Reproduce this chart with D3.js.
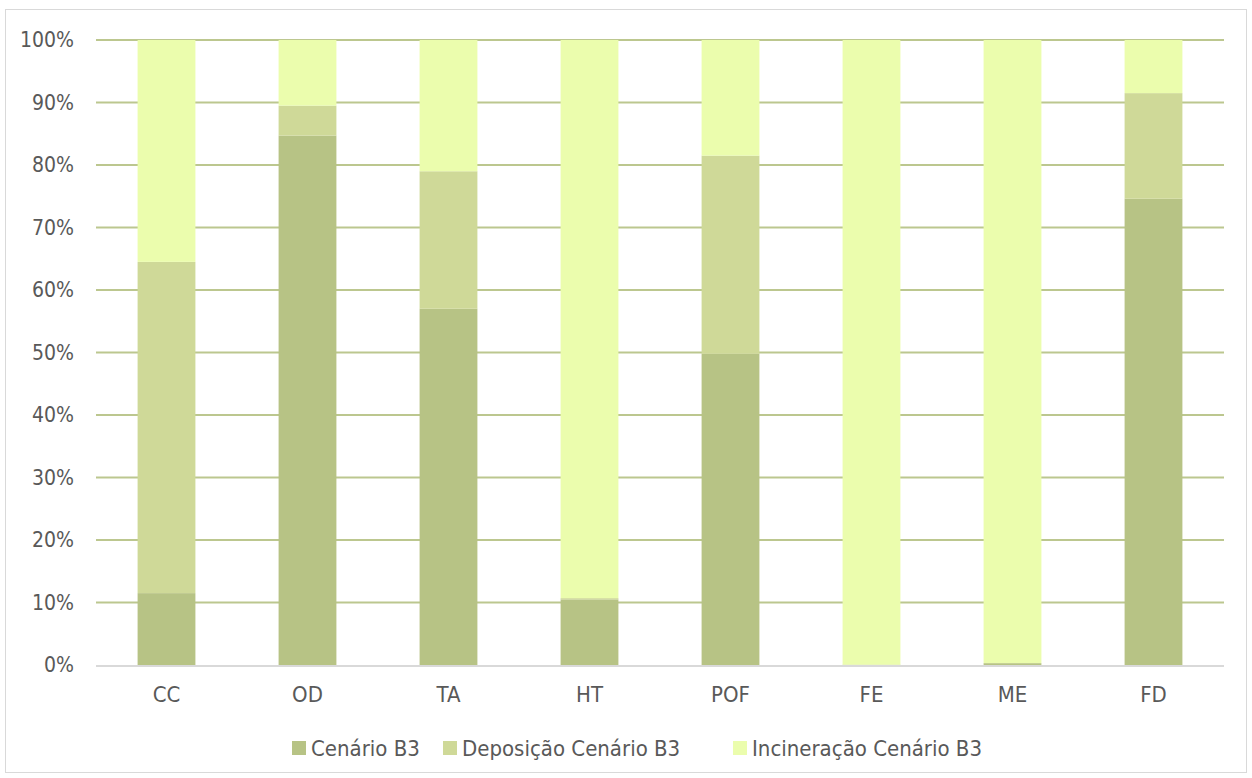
<!DOCTYPE html>
<html>
<head>
<meta charset="utf-8">
<script src="https://cdn.jsdelivr.net/npm/d3@7"></script>
<style>
  html, body { margin: 0; padding: 0; background: #fff; }
  svg { display: block; font-family: "DejaVu Sans Condensed", "DejaVu Sans", Verdana, sans-serif; }
</style>
</head>
<body>
<svg id="chart" width="1252" height="778"></svg>
<script>
// Categories and stacked shares (percent of each category)
const categories = ["CC", "OD", "TA", "HT", "POF", "FE", "ME", "FD"];
const cenarioB3 = [11.5, 84.7, 57.0, 10.5, 49.8, 0.05, 0.3, 74.6];
const deposicaoB3 = [53.0, 4.8, 22.0, 0.2, 31.7, 0.0, 0.0, 16.9];
const incineracaoB3 = [35.5, 10.5, 21.0, 89.3, 18.5, 99.95, 99.7, 8.5];
const seriesNames = ["Cenário B3", "Deposição Cenário B3", "Incineração Cenário B3"];
const yTicks = [0, 10, 20, 30, 40, 50, 60, 70, 80, 90, 100];

const colors = ["#b7c385", "#cfd998", "#ebfdad"];
const textColor = "#595959";
const fontFamily = "\"DejaVu Sans Condensed\", \"DejaVu Sans\", Verdana, sans-serif";

const svg = d3.select("#chart");
const W = 1252, H = 778;
const margin = { left: 96, right: 28, top: 40, bottom: 113 };

// chart frame
svg.append("rect")
  .attr("x", 5.5).attr("y", 9.5)
  .attr("width", W - 11).attr("height", H - 15)
  .attr("fill", "#fff").attr("stroke", "#d9d9d9").attr("stroke-width", 1);

const x = d3.scaleBand()
  .domain(categories)
  .range([margin.left, W - margin.right])
  .paddingInner(0.59)
  .paddingOuter(0.295);

const y = d3.scaleLinear()
  .domain([0, 100])
  .range([H - margin.bottom, margin.top]);

// gridlines
svg.append("g")
  .selectAll("line")
  .data(yTicks.filter(t => t > 0))
  .join("line")
  .attr("x1", margin.left).attr("x2", W - margin.right)
  .attr("y1", d => y(d)).attr("y2", d => y(d))
  .attr("stroke", "#bcc78f").attr("stroke-width", 2);

// stacked bars
const rows = categories.map((c, i) => ({
  cat: c, s0: cenarioB3[i], s1: deposicaoB3[i], s2: incineracaoB3[i]
}));
const stack = d3.stack().keys(["s0", "s1", "s2"]);
const layers = stack(rows);

svg.append("g")
  .selectAll("g")
  .data(layers)
  .join("g")
  .attr("fill", (d, i) => colors[i])
  .selectAll("rect")
  .data(d => d)
  .join("rect")
  .attr("x", d => x(d.data.cat))
  .attr("width", x.bandwidth())
  .attr("y", d => y(d[1]))
  .attr("height", d => Math.max(0, y(d[0]) - y(d[1])));

// baseline
svg.append("line")
  .attr("x1", margin.left).attr("x2", W - margin.right)
  .attr("y1", y(0) + 1).attr("y2", y(0) + 1)
  .attr("stroke", "#d9d9d9").attr("stroke-width", 2);

// y axis labels
const yAxis = d3.axisLeft(y)
  .tickValues(yTicks)
  .tickFormat(d => d + "%")
  .tickSize(0)
  .tickPadding(22);
const gy = svg.append("g")
  .attr("transform", `translate(${margin.left},0)`)
  .call(yAxis);
gy.select(".domain").remove();
gy.selectAll("text")
  .attr("fill", textColor)
  .style("font-size", "21px")
  .style("font-family", fontFamily);

// x axis labels
const xAxis = d3.axisBottom(x).tickSize(0).tickPadding(21);
const gx = svg.append("g")
  .attr("transform", `translate(0,${y(0)})`)
  .call(xAxis);
gx.select(".domain").remove();
gx.selectAll("text")
  .attr("fill", textColor)
  .style("font-size", "22px")
  .style("font-family", fontFamily);

// legend
const legendX = [292, 443, 733];
const legend = svg.append("g").attr("transform", "translate(0,748)");
seriesNames.forEach((name, i) => {
  const g = legend.append("g").attr("transform", `translate(${legendX[i]},0)`);
  g.append("rect").attr("x", 0).attr("y", -7).attr("width", 14).attr("height", 14)
    .attr("fill", colors[i]);
  g.append("text").attr("x", 19).attr("y", 7.5)
    .attr("fill", textColor).style("font-size", "22px")
    .text(name);
});
</script>
</body>
</html>
